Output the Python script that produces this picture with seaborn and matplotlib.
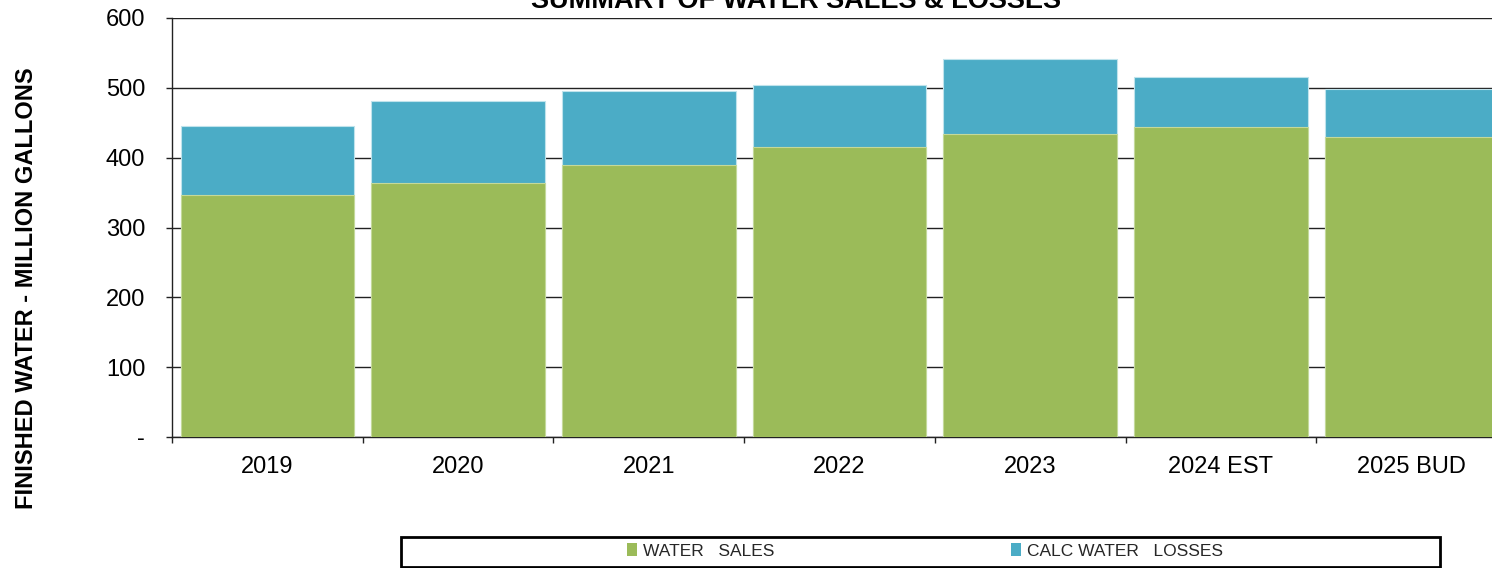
import matplotlib
matplotlib.use("Agg")
import matplotlib.pyplot as plt
from matplotlib.patches import Patch, Rectangle
import seaborn as sns
import pandas as pd

years = ["2019", "2020", "2021", "2022", "2023", "2024 EST", "2025 BUD"]
water_sales = [346, 364, 389, 415, 434, 444, 430]
calc_water_losses = [100, 117, 106, 89, 107, 71, 69]
y_ticks = [0, 100, 200, 300, 400, 500, 600]
y_tick_labels = ["-", "100", "200", "300", "400", "500", "600"]

title = "SUMMARY OF WATER SALES & LOSSES"
y_label = "FINISHED WATER - MILLION GALLONS"
series_names = ["WATER   SALES", "CALC WATER   LOSSES"]

GREEN = "#9BBB59"
BLUE = "#4BACC6"

sns.set_theme(style="white")
plt.rcParams["font.family"] = ["Liberation Sans", "DejaVu Sans"]

df = pd.DataFrame({"year": years, "sales": water_sales, "losses": calc_water_losses})
df["total"] = df["sales"] + df["losses"]

W, H = 1492, 568
fig = plt.figure(figsize=(W / 100, H / 100), dpi=100)
ax = fig.add_axes([172 / W, 1 - 437 / H, (1507 - 172) / W, 419 / H])

sns.barplot(data=df, x="year", y="total", order=years, color=BLUE, saturation=1,
            width=0.91, edgecolor="#bfe3ec", linewidth=0.8, ax=ax, zorder=2)
sns.barplot(data=df, x="year", y="sales", order=years, color=GREEN, saturation=1,
            width=0.91, edgecolor="#c4d99a", linewidth=0.8, ax=ax, zorder=3)

ax.set_xlim(-0.5, len(years) - 0.5)
ax.set_ylim(0, 600)
ax.set_yticks(y_ticks)
ax.set_yticklabels(y_tick_labels)
ax.set_xlabel("")
ax.set_ylabel("")

ax.set_axisbelow(True)
ax.yaxis.grid(True, color="#222222", linewidth=1.0)
ax.xaxis.grid(False)

for s in ["top", "right"]:
    ax.spines[s].set_visible(False)
for s in ["left", "bottom"]:
    ax.spines[s].set_visible(True)
    ax.spines[s].set_color("#222222")
    ax.spines[s].set_linewidth(1.0)

ax.tick_params(axis="y", which="major", left=True, length=4.3, width=1.0,
               color="#222222", labelsize=17, pad=15, labelcolor="black")
ax.set_xticks([i - 0.5 for i in range(len(years) + 1)], minor=True)
ax.tick_params(axis="x", which="minor", bottom=True, length=4.3, width=1.0, color="#222222")
ax.tick_params(axis="x", which="major", bottom=False, length=0, labelsize=17, pad=14,
               labelcolor="black")

fig.text(796 / W, 1 - 8 / H, title, ha="center", va="baseline",
         fontsize=19.5, fontweight="bold", color="black")
fig.text(27 / W, 1 - 288 / H, y_label, rotation=90, ha="center", va="center",
         fontsize=17, fontweight="bold", color="black")

# legend frame
fig.patches.append(Rectangle((401 / W, 1 - 567 / H), (1440 - 401) / W, 30 / H,
                             transform=fig.transFigure, fill=False,
                             edgecolor="black", linewidth=2.0, zorder=5))

handles = [Patch(facecolor=GREEN, edgecolor="none"), Patch(facecolor=BLUE, edgecolor="none")]
fig.legend(handles, series_names, loc="center left",
           bbox_to_anchor=(627 / W, 1 - 551 / H), ncol=2, frameon=False,
           prop={"family": ["Liberation Sans"], "size": 12.5},
           handlelength=0.55, handleheight=0.8, handletextpad=0.4,
           columnspacing=13.6, borderpad=0, borderaxespad=0)

fig.savefig("out.png", dpi=100)
